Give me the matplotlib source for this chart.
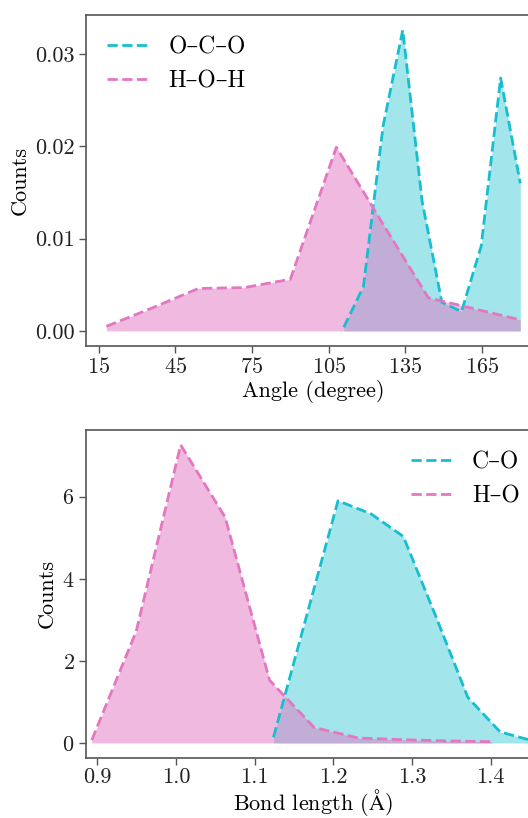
import numpy as np
import matplotlib
matplotlib.use("Agg")
import matplotlib.pyplot as plt

plt.rcParams['font.family'] = ['cmr10', 'DejaVu Serif']
plt.rcParams['mathtext.fontset'] = 'cm'
plt.rcParams['axes.formatter.use_mathtext'] = True
plt.rcParams['axes.unicode_minus'] = False

# ---- Data: angles ----
oco_angle = [110.9, 118.6, 126.3, 134.0, 141.6, 149.3, 157.0, 164.7, 172.3, 180.0]
oco_counts = [0.0004, 0.0048, 0.0222, 0.0326, 0.0140, 0.0031, 0.0021, 0.0092, 0.0274, 0.0160]
hoh_angle = [18, 36, 54, 72, 90, 108, 126, 144, 162, 180]
hoh_counts = [0.0005, 0.0025, 0.0046, 0.0047, 0.0056, 0.0199, 0.0117, 0.0036, 0.0024, 0.0012]

# ---- Data: bond lengths ----
co_len = [1.124, 1.165, 1.206, 1.248, 1.289, 1.330, 1.371, 1.412, 1.454]
co_counts = [0.14, 3.02, 5.90, 5.58, 5.03, 3.10, 1.11, 0.27, 0.05]
ho_len = [0.893, 0.9495, 1.006, 1.0625, 1.119, 1.1755, 1.232, 1.2885, 1.345, 1.4015]
ho_counts = [0.07, 2.72, 7.26, 5.50, 1.53, 0.38, 0.12, 0.08, 0.05, 0.03]

angle_ticks = [15, 45, 75, 105, 135, 165]
len_ticks = [0.9, 1.0, 1.1, 1.2, 1.3, 1.4]

cyan = '#17becf'
pink = '#e377c2'

fig = plt.figure(figsize=(5.28, 8.18), dpi=100)
ax1 = fig.add_axes([0.1623, 0.577, 0.8623, 0.4047])
ax2 = fig.add_axes([0.1623, 0.0735, 0.8623, 0.4008])

def style(ax):
    for s in ax.spines.values():
        s.set_color('#555555')
        s.set_linewidth(1.2)
    ax.tick_params(axis='both', direction='out', length=5, width=1.0,
                   color='#555555', labelsize=16, labelcolor='#222222', pad=3)

# top
ax1.fill_between(oco_angle, oco_counts, color=cyan, alpha=0.4, linewidth=0)
ax1.fill_between(hoh_angle, hoh_counts, color=pink, alpha=0.5, linewidth=0)
ax1.plot(oco_angle, oco_counts, '--', color=cyan, lw=2, label='O–C–O')
ax1.plot(hoh_angle, hoh_counts, '--', color=pink, lw=2, label='H–O–H')
ax1.set_xticks(angle_ticks)
ax1.set_yticks([0.0, 0.01, 0.02, 0.03])
ax1.yaxis.set_major_formatter(matplotlib.ticker.FormatStrFormatter('%.2f'))
ax1.set_xlabel('Angle (degree)', fontsize=16, labelpad=2)
ax1.set_ylabel('Counts', fontsize=16)
ax1.legend(loc='upper left', frameon=False, fontsize=17, handlelength=1.8)
style(ax1)

# bottom
ax2.fill_between(co_len, co_counts, color=cyan, alpha=0.4, linewidth=0)
ax2.fill_between(ho_len, ho_counts, color=pink, alpha=0.5, linewidth=0)
ax2.plot(co_len, co_counts, '--', color=cyan, lw=2, label='C–O')
ax2.plot(ho_len, ho_counts, '--', color=pink, lw=2, label='H–O')
ax2.set_xlim(0.8853, 1.464)
ax2.set_xticks(len_ticks)
ax2.xaxis.set_major_formatter(matplotlib.ticker.FormatStrFormatter('%.1f'))
ax2.set_yticks([0, 2, 4, 6])
ax2.set_ylabel('Counts', fontsize=16)
ax2.legend(loc='upper right', frameon=False, fontsize=17, handlelength=1.8)
style(ax2)
ax2.tick_params(axis='x', pad=2)
ax2.set_xlabel(r'Bond length ($\mathrm{\AA}$)', fontsize=16, labelpad=0)

fig.savefig('out.png', dpi=100)
